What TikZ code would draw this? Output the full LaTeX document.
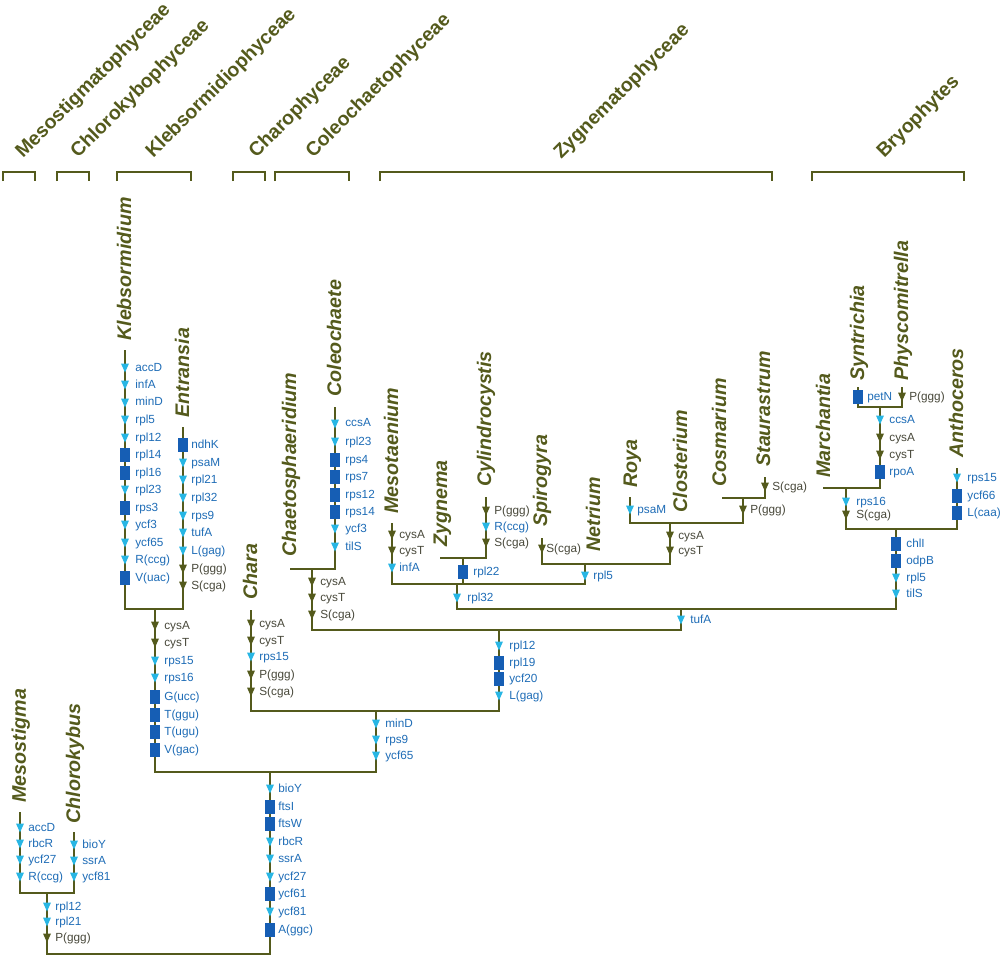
\documentclass[tikz,border=0pt]{standalone}
\usepackage{fontspec}
\setmainfont{Liberation Sans}
\usetikzlibrary{positioning, calc}

\definecolor{olivetree}{RGB}{84,90,28}
\definecolor{genegray}{RGB}{72,72,58}
\definecolor{geneblue}{RGB}{30,108,182}
\definecolor{mkcyan}{RGB}{40,182,228}
\definecolor{mkblue}{RGB}{22,94,180}

\tikzset{
  branch/.style={draw=olivetree, line width=1.15pt},
  bracket/.style={draw=olivetree, line width=1.15pt},
  taxon/.style={rotate=90, anchor=base west, inner sep=0, text=olivetree,
    font=\fontsize{11.2}{12}\selectfont\bfseries\itshape},
  clade/.style={rotate=45, anchor=base west, inner sep=0, text=olivetree,
    font=\fontsize{11.1}{13}\selectfont\bfseries},
  downtri/.style={inner sep=0, minimum width=0.16cm, minimum height=0.18cm,
    path picture={\fill[#1] (path picture bounding box.north west)
      -- (path picture bounding box.north east)
      -- (path picture bounding box.south) -- cycle;}},
  tricyan/.style={downtri=mkcyan},
  triolive/.style={downtri=olivetree},
  sqblue/.style={fill=mkblue, inner sep=0, minimum width=0.19cm, minimum height=0.29cm},
  genetxt/.style={anchor=west, inner sep=0, font=\fontsize{6.7}{7}\selectfont,
    text height=4.8pt, text depth=1.4pt},
  tricyanlbl/.style={genetxt, text=geneblue},
  triolivelbl/.style={genetxt, text=genegray},
  sqbluelbl/.style={genetxt, text=geneblue},
}

% one column of gene events on a branch: [label offset]{prefix}{x}{y/marker/gene,...}
\newcommand{\genelist}[4][9]{%
  \foreach \gy/\gs/\gn [count=\gi] in {#4}{%
    \node[\gs] (#2m\gi) at (#3,\gy) {};
    \node[\gs lbl] (#2t\gi) at (#3+#1,\gy) {\gn};
  }%
}

\begin{document}
\begin{tikzpicture}[x=0.02cm, y=-0.02cm]
  \useasboundingbox (0,0) rectangle (1000,958);

  % clade names and brackets
  \node[clade] (cMeso) at (23,159) {Mesostigmatophyceae};
  \node[clade] (cChlo) at (78,159) {Chlorokybophyceae};
  \node[clade] (cKleb) at (153,159) {Klebsormidiophyceae};
  \node[clade] (cChar) at (256,159) {Charophyceae};
  \node[clade] (cCole) at (313,159) {Coleochaetophyceae};
  \node[clade] (cZygn) at (561,160) {Zygnematophyceae};
  \node[clade] (cBryo) at (884,159) {Bryophytes};
  \foreach \a/\b in {3/35, 57/89, 117/191, 233/265, 275/349, 380/772, 812/964}
    \draw[bracket] (\a,181) |- (\b,172) -- (\b,181);

  % tips
  \coordinate (meso) at (20,812);
  \coordinate (chlk) at (74,832);
  \coordinate (kleb) at (125,350);
  \coordinate (entr) at (183,427);
  \coordinate (char) at (251,610);
  \coordinate (chae) at (290,569);
  \coordinate (cole) at (335,407);
  \coordinate (mest) at (392,523);
  \coordinate (zygn) at (440,558);
  \coordinate (cyli) at (486,497);
  \coordinate (spir) at (542,538);
  \coordinate (netr) at (594,564);
  \coordinate (roya) at (630,497);
  \coordinate (clos) at (682,523);
  \coordinate (cosm) at (722,498);
  \coordinate (stau) at (765,477);
  \coordinate (marc) at (823,488);
  \coordinate (synt) at (858,387);
  \coordinate (phys) at (902,387);
  \coordinate (anth) at (957,468);

  % internal nodes
  \coordinate (root) at (150,954);
  \coordinate (jMC) at (47,893);
  \coordinate (jStr) at (270,772);
  \coordinate (jKle) at (155,609);
  \coordinate (jP1) at (376,711);
  \coordinate (jP2) at (499,630);
  \coordinate (jCol) at (312,569);
  \coordinate (jP3) at (681,609);
  \coordinate (jZyg) at (457,584);
  \coordinate (jZC) at (463,558);
  \coordinate (jZD) at (585,564);
  \coordinate (jZE) at (670,523);
  \coordinate (jZF) at (743,498);
  \coordinate (jBry) at (896,529);
  \coordinate (jBM) at (846,488);
  \coordinate (jMos) at (880,407);

  % branches
  \draw[branch] (jMC) |- (root) -| (jStr);
  \draw[branch] (meso) |- (jMC) -| (chlk);
  \draw[branch] (jKle) |- (jStr) -| (jP1);
  \draw[branch] (kleb) |- (jKle) -| (entr);
  \draw[branch] (char) |- (jP1) -| (jP2);
  \draw[branch] (jCol) |- (jP2) -| (jP3);
  \draw[branch] (chae) |- (jCol) -| (cole);
  \draw[branch] (jZyg) |- (jP3) -| (jBry);
  \draw[branch] (mest) |- (jZyg) -| (jZD);
  \draw[branch] (jZC) -- (jZC |- jZyg);
  \draw[branch] (zygn) |- (jZC) -| (cyli);
  \draw[branch] (spir) |- (jZD) -| (jZE);
  \draw[branch] (roya) |- (jZE) -| (jZF);
  \draw[branch] (cosm) |- (jZF) -| (stau);
  \draw[branch] (jBM) |- (jBry) -| (anth);
  \draw[branch] (marc) |- (jBM) -| (jMos);
  \draw[branch] (synt) |- (jMos) -| (phys);

  % taxon names
  \node[taxon] (tMeso) at (26,803) {Mesostigma};
  \node[taxon] (tChlk) at (80,824) {Chlorokybus};
  \node[taxon] (tKleb) at (131,341) {Klebsormidium};
  \node[taxon] (tEntr) at (189,418) {Entransia};
  \node[taxon] (tChar) at (257,600) {Chara};
  \node[taxon] (tChae) at (296,557) {Chaetosphaeridium};
  \node[taxon] (tCole) at (341,397) {Coleochaete};
  \node[taxon] (tMest) at (398,514) {Mesotaenium};
  \node[taxon] (tZygn) at (447,547) {Zygnema};
  \node[taxon] (tCyli) at (491,487) {Cylindrocystis};
  \node[taxon] (tSpir) at (547,527) {Spirogyra};
  \node[taxon] (tNetr) at (600,552) {Netrium};
  \node[taxon] (tRoya) at (637,488) {Roya};
  \node[taxon] (tClos) at (687,513) {Closterium};
  \node[taxon] (tCosm) at (726,487) {Cosmarium};
  \node[taxon] (tStau) at (770,467) {Staurastrum};
  \node[taxon] (tMarc) at (830,478) {Marchantia};
  \node[taxon] (tSynt) at (864,381) {Syntrichia};
  \node[taxon] (tPhys) at (908,381) {Physcomitrella};
  \node[taxon] (tAnth) at (963,458) {Anthoceros};

  % gene events
  \genelist[8]{ms}{20}{828/tricyan/accD, 844/tricyan/rbcR, 860/tricyan/ycf27, 877/tricyan/R(ccg)}
  \genelist[8]{ck}{74}{845/tricyan/bioY, 861/tricyan/ssrA, 877/tricyan/ycf81}
  \genelist[8]{mc}{47}{907/tricyan/rpl12, 922/tricyan/rpl21, 938/triolive/P(ggg)}
  \genelist[10]{kb}{125}{368/tricyan/accD, 385/tricyan/infA, 403/tricyan/minD, 420/tricyan/rpl5,
    438/tricyan/rpl12, 455/sqblue/rpl14, 473/sqblue/rpl16, 490/tricyan/rpl23, 508/sqblue/rps3,
    525/tricyan/ycf3, 543/tricyan/ycf65, 560/tricyan/R(ccg), 578/sqblue/V(uac)}
  \genelist[8]{en}{183}{445/sqblue/ndhK, 463/tricyan/psaM, 480/tricyan/rpl21, 498/tricyan/rpl32,
    516/tricyan/rps9, 533/tricyan/tufA, 551/tricyan/L(gag), 569/triolive/P(ggg), 586/triolive/S(cga)}
  \genelist{kl}{155}{626/triolive/cysA, 643/triolive/cysT, 661/tricyan/rps15, 678/tricyan/rps16,
    697/sqblue/G(ucc), 715/sqblue/T(ggu), 732/sqblue/T(ugu), 750/sqblue/V(gac)}
  \genelist[8]{sp}{270}{789/tricyan/bioY, 807/sqblue/ftsI, 824/sqblue/ftsW, 842/tricyan/rbcR,
    859/tricyan/ssrA, 877/tricyan/ycf27, 894/sqblue/ycf61, 912/tricyan/ycf81, 930/sqblue/A(ggc)}
  \genelist{pa}{376}{724/tricyan/minD, 740/tricyan/rps9, 756/tricyan/ycf65}
  \genelist[8]{ch}{251}{624/triolive/cysA, 641/triolive/cysT, 657/tricyan/rps15, 675/triolive/P(ggg),
    692/triolive/S(cga)}
  \genelist[10]{pb}{499}{646/tricyan/rpl12, 663/sqblue/rpl19, 679/sqblue/ycf20, 696/tricyan/L(gag)}
  \genelist[8]{cc}{312}{582/triolive/cysA, 598/triolive/cysT, 615/triolive/S(cga)}
  \genelist[10]{co}{335}{424/tricyan/ccsA, 442/tricyan/rpl23, 460/sqblue/rps4, 477/sqblue/rps7,
    495/sqblue/rps12, 512/sqblue/rps14, 529/tricyan/ycf3, 547/tricyan/tilS}
  \genelist{pc}{681}{620/tricyan/tufA}
  \genelist[10]{zy}{457}{598/tricyan/rpl32}
  \genelist[7]{mt}{392}{535/triolive/cysA, 551/triolive/cysT, 568/tricyan/infA}
  \genelist[10]{zc}{463}{572/sqblue/rpl22}
  \genelist[8]{cy}{486}{511/triolive/P(ggg), 527/tricyan/R(ccg), 543/triolive/S(cga)}
  \genelist[8]{zd}{585}{576/tricyan/rpl5}
  \genelist[4]{sg}{542}{549/triolive/S(cga)}
  \genelist[8]{ze}{670}{536/triolive/cysA, 551/triolive/cysT}
  \genelist[7]{ry}{630}{510/tricyan/psaM}
  \genelist[7]{zf}{743}{510/triolive/P(ggg)}
  \genelist[7]{sa}{765}{487/triolive/S(cga)}
  \genelist[10]{br}{896}{544/sqblue/chlI, 561/sqblue/odpB, 578/tricyan/rpl5, 594/tricyan/tilS}
  \genelist[10]{bm}{846}{502/tricyan/rps16, 515/triolive/S(cga)}
  \genelist{mo}{880}{420/tricyan/ccsA, 438/triolive/cysA, 455/triolive/cysT, 472/sqblue/rpoA}
  \genelist[9]{sy}{858}{397/sqblue/petN}
  \genelist[7]{ph}{902}{397/triolive/P(ggg)}
  \genelist[10]{an}{957}{478/tricyan/rps15, 496/sqblue/ycf66, 513/sqblue/L(caa)}
\end{tikzpicture}
\end{document}
